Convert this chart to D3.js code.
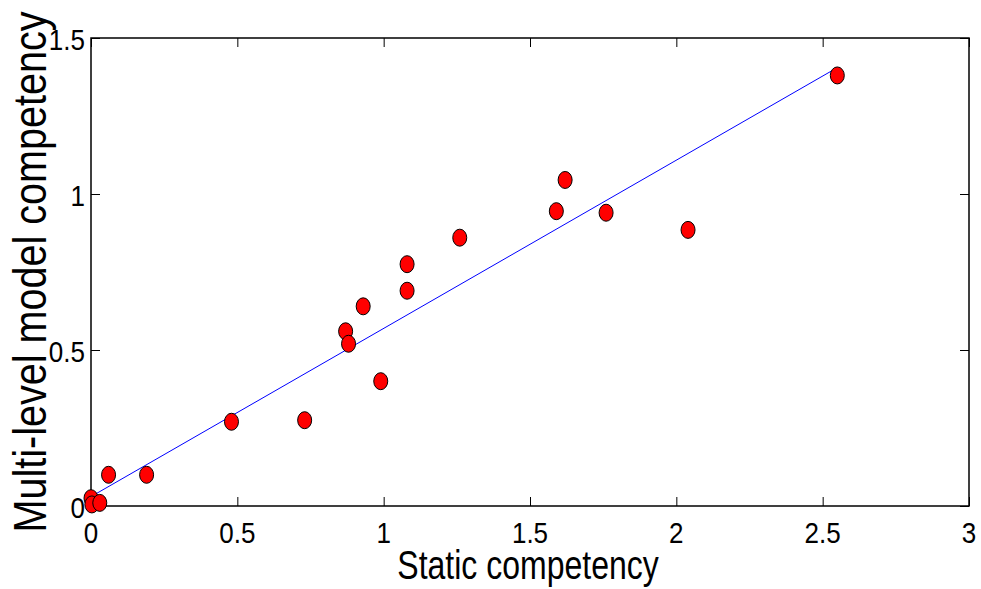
<!DOCTYPE html>
<html>
<head>
<meta charset="utf-8">
<script src="https://cdn.jsdelivr.net/npm/d3@7"></script>
<style>
  body { margin: 0; background: #fff; }
  text { font-family: "Liberation Sans", Arial, sans-serif; fill: #000; }
</style>
</head>
<body>
<div id="chart"></div>
<script>
// data
const staticComp = [0, 0.003, 0.03, 0.06, 0.19, 0.48, 0.73, 0.87, 0.88, 0.93, 0.99, 1.08, 1.08, 1.26, 1.59, 1.62, 1.76, 2.04, 2.55];
const multiComp  = [0.025, 0.005, 0.01, 0.10, 0.10, 0.27, 0.275, 0.56, 0.52, 0.64, 0.40, 0.69, 0.775, 0.86, 0.945, 1.045, 0.94, 0.885, 1.38];
const fitX = [0, 2.55];
const fitY = [0.03, 1.405];
const xTicks = [0, 0.5, 1, 1.5, 2, 2.5, 3];
const yTicks = [0, 0.5, 1, 1.5];

const width = 981;
const height = 589;
const margin = { left: 91, top: 38, right: 12, bottom: 83 };

const svg = d3.select('#chart')
              .append('svg')
              .attr('width', width)
              .attr('height', height);

const xScale = d3.scaleLinear()
                 .domain([0, 3])
                 .range([margin.left, width - margin.right]);

const yScale = d3.scaleLinear()
                 .domain([0, 1.5])
                 .range([height - margin.bottom, margin.top]);

const tickLen = 9;
const fmt = d3.format('');

// tick marks on all four sides, pointing inwards
svg.append('g')
   .attr('transform', `translate(0,${yScale(0)})`)
   .call(d3.axisBottom(xScale).tickValues(xTicks).tickSize(-tickLen).tickFormat(''))
   .call(g => g.select('.domain').remove());

svg.append('g')
   .attr('transform', `translate(0,${yScale(1.5)})`)
   .call(d3.axisTop(xScale).tickValues(xTicks).tickSize(-tickLen).tickFormat(''))
   .call(g => g.select('.domain').remove());

svg.append('g')
   .attr('transform', `translate(${xScale(0)},0)`)
   .call(d3.axisLeft(yScale).tickValues(yTicks).tickSize(-tickLen).tickFormat(''))
   .call(g => g.select('.domain').remove());

svg.append('g')
   .attr('transform', `translate(${xScale(3)},0)`)
   .call(d3.axisRight(yScale).tickValues(yTicks).tickSize(-tickLen).tickFormat(''))
   .call(g => g.select('.domain').remove());

svg.selectAll('.tick line').attr('stroke', '#000').attr('stroke-width', 1);

// tick labels (tall, narrow look of the original)
svg.append('g')
   .selectAll('text')
   .data(xTicks)
   .enter()
   .append('text')
   .attr('transform', d => `translate(${xScale(d)},543) scale(1,1.17)`)
   .attr('text-anchor', 'middle')
   .attr('font-size', 26)
   .text(fmt);

svg.append('g')
   .selectAll('text')
   .data(yTicks)
   .enter()
   .append('text')
   .attr('transform', d => `translate(85,${yScale(d) + 1}) scale(1,1.17)`)
   .attr('text-anchor', 'end')
   .attr('dy', '0.36em')
   .attr('font-size', 26)
   .text(fmt);

svg.append('rect')
   .attr('x', xScale(0))
   .attr('y', yScale(1.5))
   .attr('width', xScale(3) - xScale(0))
   .attr('height', yScale(0) - yScale(1.5))
   .attr('fill', 'none')
   .attr('stroke', '#000')
   .attr('stroke-width', 1.5);

// fitted line
const line = d3.line()
               .x(d => xScale(d[0]))
               .y(d => yScale(d[1]));

svg.append('path')
   .datum(d3.zip(fitX, fitY))
   .attr('d', line)
   .attr('fill', 'none')
   .attr('stroke', '#0000ff')
   .attr('stroke-width', 1);

// points
svg.selectAll('ellipse')
   .data(d3.zip(staticComp, multiComp))
   .enter()
   .append('ellipse')
   .attr('cx', d => xScale(d[0]))
   .attr('cy', d => yScale(d[1]))
   .attr('rx', 7)
   .attr('ry', 8.5)
   .attr('fill', '#ff0000')
   .attr('stroke', '#000')
   .attr('stroke-width', 1);

// axis labels
svg.append('text')
   .attr('transform', `translate(${(xScale(0) + xScale(3)) / 2 - 2},579) scale(1,1.28)`)
   .attr('text-anchor', 'middle')
   .attr('font-size', 32)
   .text('Static competency');

svg.append('text')
   .attr('transform', `translate(46,${(yScale(0) + yScale(1.5)) / 2}) rotate(-90) scale(0.86,1)`)
   .attr('text-anchor', 'middle')
   .attr('font-size', 46)
   .text('Multi-level model competency');
</script>
</body>
</html>
